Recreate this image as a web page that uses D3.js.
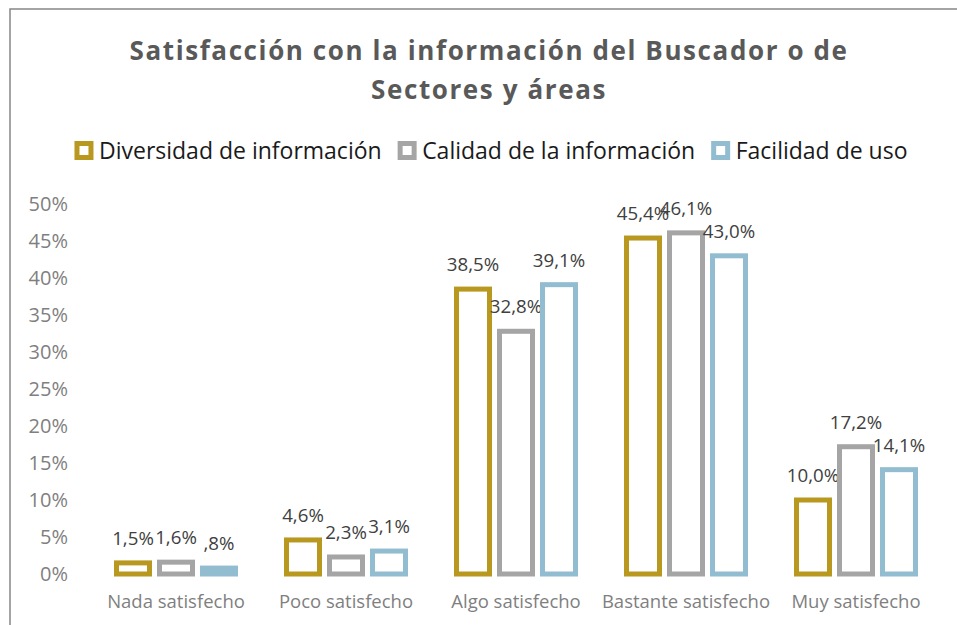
<!DOCTYPE html>
<html>
<head>
<meta charset="utf-8">
<script src="https://cdn.jsdelivr.net/npm/d3@7"></script>
<style>
  body { margin: 0; background: #fff; }
  svg { display: block; font-family: "Open Sans", sans-serif; }
</style>
</head>
<body>
<div id="chart"></div>
<script>
var titleLines = ["Satisfacción con la información del Buscador o de", "Sectores y áreas"];
var categories = ["Nada satisfecho", "Poco satisfecho", "Algo satisfecho", "Bastante satisfecho", "Muy satisfecho"];
var seriesNames = ["Diversidad de información", "Calidad de la información", "Facilidad de uso"];
var diversidad = [1.5, 4.6, 38.5, 45.4, 10.0];
var calidad = [1.6, 2.3, 32.8, 46.1, 17.2];
var facilidad = [0.8, 3.1, 39.1, 43.0, 14.1];
var yTicks = [0, 5, 10, 15, 20, 25, 30, 35, 40, 45, 50];
var colors = ["#b8981e", "#a5a5a5", "#92bdd0"];

var width = 957, height = 625;
var seriesValues = [diversidad, calidad, facilidad];

var svg = d3.select("#chart").append("svg")
    .attr("width", width)
    .attr("height", height);

// chart frame (only top and left edges visible in the crop)
svg.append("rect")
    .attr("x", 10).attr("y", 9)
    .attr("width", 1200).attr("height", 1000)
    .attr("fill", "none")
    .attr("stroke", "#878787")
    .attr("stroke-width", 1.5);

// title
svg.append("text")
    .attr("text-anchor", "middle")
    .attr("fill", "#595959")
    .style("font-size", "26px")
    .style("font-weight", "bold")
    .style("letter-spacing", "1.6px")
    .selectAll("tspan")
    .data(titleLines)
    .enter().append("tspan")
    .attr("x", 489)
    .attr("y", function (d, i) { return 60 + i * 39; })
    .text(function (d) { return d; });

var x0 = d3.scaleBand().domain(categories).range([91, 941]);
var x1 = d3.scaleBand().domain(seriesNames).range([20.5, 149.5]);
var y = d3.scaleLinear().domain([0, 50]).range([574, 204]);

var fmt = function (v) {
    return d3.format(".1f")(v).replace(".", ",").replace(/^0,/, ",") + "%";
};

// y axis
var yAxis = svg.append("g")
    .attr("transform", "translate(74,0)")
    .call(d3.axisLeft(y).tickValues(yTicks).tickSize(0).tickPadding(6)
        .tickFormat(function (d) { return d + "%"; }));
yAxis.select(".domain").remove();
yAxis.selectAll("text")
    .attr("fill", "#7f7f7f")
    .style("font-size", "20px")
    .style("font-family", "'Open Sans', sans-serif");

// x axis
var xAxis = svg.append("g")
    .attr("transform", "translate(0,574)")
    .call(d3.axisBottom(x0).tickSize(0).tickPadding(21));
xAxis.select(".domain").remove();
xAxis.selectAll("text")
    .attr("fill", "#7f7f7f")
    .style("font-size", "18.5px")
    .style("font-family", "'Open Sans', sans-serif");

// bars
var rows = [];
categories.forEach(function (c, ci) {
    seriesNames.forEach(function (s, si) {
        rows.push({ cat: c, series: s, si: si, value: seriesValues[si][ci] });
    });
});

var sw = 5;
var bar = svg.append("g").selectAll(".bar")
    .data(rows)
    .enter().append("g")
    .attr("class", "bar")
    .attr("transform", function (d) { return "translate(" + (x0(d.cat) + x1(d.series)) + ",0)"; });

bar.append("rect")
    .attr("x", sw)
    .attr("y", function (d) { return y(d.value); })
    .attr("width", x1.bandwidth() - 2 * sw)
    .attr("height", function (d) { return y(0) - y(d.value); })
    .attr("fill", function (d) { return (y(0) - y(d.value)) < sw + 2 ? colors[d.si] : "#fff"; })
    .attr("stroke", function (d) { return colors[d.si]; })
    .attr("stroke-width", sw);

bar.append("text")
    .attr("x", x1.bandwidth() / 2)
    .attr("y", function (d) { return y(d.value) - 18; })
    .attr("text-anchor", "middle")
    .attr("fill", "#404040")
    .style("font-size", "18.7px")
    .text(function (d) { return fmt(d.value); });

// legend
var legend = svg.append("g").attr("transform", "translate(0,0)");
var lx = 0;
seriesNames.forEach(function (s, i) {
    var item = legend.append("g").attr("transform", "translate(" + lx + ",0)");
    item.append("rect")
        .attr("x", 2.5).attr("y", 143.5)
        .attr("width", 14).attr("height", 14)
        .attr("fill", "#fff")
        .attr("stroke", colors[i])
        .attr("stroke-width", sw);
    var t = item.append("text")
        .attr("x", 24.5).attr("y", 158.5)
        .attr("fill", "#1a1a1a")
        .style("font-size", "23px")
        .text(s);
    lx += 24.5 + t.node().getComputedTextLength() + 16;
});
var legendWidth = lx - 16;
legend.attr("transform", "translate(" + (491 - legendWidth / 2) + ",0)");
</script>
</body>
</html>
